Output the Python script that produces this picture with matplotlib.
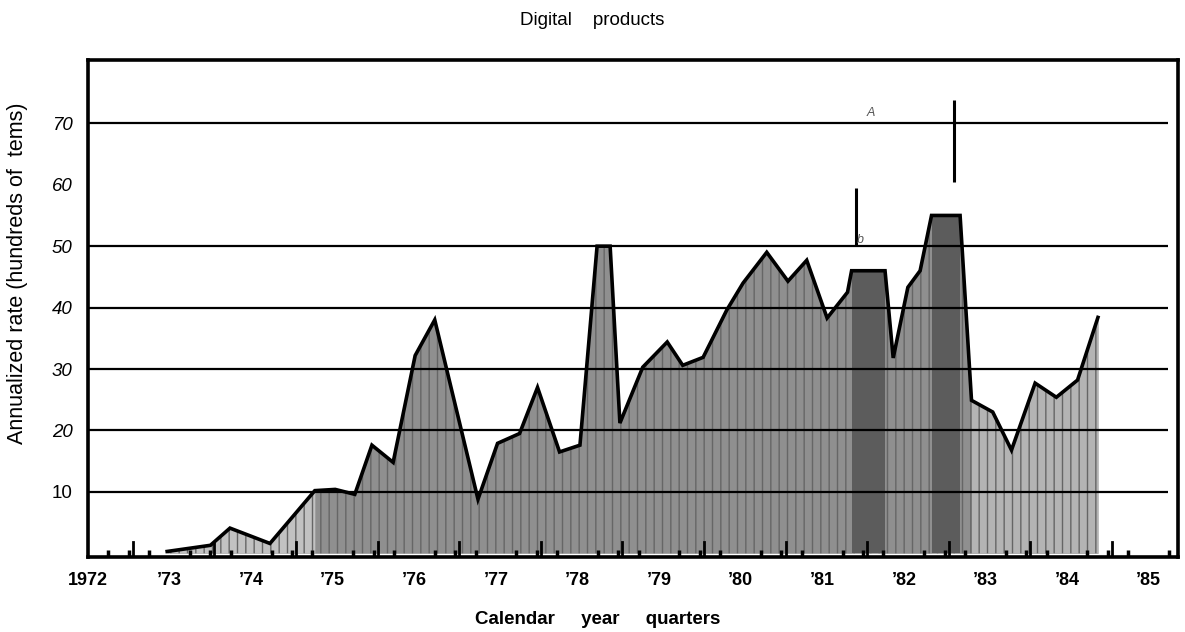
import numpy as np
import matplotlib.pyplot as plt

plt.rcParams['font.family'] = ['Liberation Sans', 'DejaVu Sans']

# quarterly readings (year, hundreds of items)
years = [1972.97, 1973.50, 1973.74, 1974.23, 1974.78, 1975.03, 1975.27, 1975.48,
         1975.74, 1976.01, 1976.25, 1976.78, 1977.02, 1977.29, 1977.51, 1977.78,
         1978.03, 1978.24, 1978.40, 1978.52, 1978.80, 1979.10, 1979.29, 1979.54,
         1979.83, 1980.03, 1980.32, 1980.58, 1980.81, 1981.06, 1981.31, 1981.36,
         1981.77, 1981.87, 1982.05, 1982.20, 1982.34, 1982.69, 1982.83, 1983.09,
         1983.32, 1983.61, 1983.87, 1984.13, 1984.38]
rate = [0.3, 1.3, 4.1, 1.6, 10.2, 10.4, 9.6, 17.6,
        14.8, 32.2, 38.0, 8.8, 17.9, 19.5, 27.0, 16.5,
        17.6, 50.0, 50.0, 21.2, 30.3, 34.4, 30.6, 31.9,
        39.6, 44.0, 49.0, 44.3, 47.7, 38.3, 42.5, 46.0,
        46.0, 31.8, 43.3, 46.0, 55.0, 55.0, 24.9, 23.0,
        16.8, 27.7, 25.4, 28.2, 38.4]

# off-scale bands (darker)
band_start = [1981.36, 1982.34]
band_end = [1981.77, 1982.69]

# stray vertical marks above the bands
mark_x = [1981.42, 1982.62]
mark_lo = [50.2, 60.4]
mark_hi = [59.4, 73.8]

grid_vals = [10, 20, 30, 40, 50, 70]
ytick_vals = [10, 20, 30, 40, 50, 60, 70]
year_ticks = list(range(1972, 1986))
year_labels = ['1972'] + ["\u2019%02d" % (y % 100) for y in year_ticks[1:]]

yrs = np.array(years)
vals = np.array(rate)

fig = plt.figure(figsize=(11.85, 6.32), dpi=100)
ax = fig.add_axes([0.0743, 0.1187, 0.9197, 0.7863])

# shading is lighter at both ends of the scan
ax.fill_between(yrs, 0, vals, color='#8f8f8f', linewidth=0, zorder=1)
ax.fill_between(yrs, 0, vals, where=yrs <= 1974.8, color='#c2c2c2', linewidth=0, zorder=1)
ax.fill_between(yrs, 0, vals, where=yrs >= 1982.83, color='#b4b4b4', linewidth=0, zorder=1)
ax.fill_between(yrs, 0, vals, facecolor='none', edgecolor='#666666',
                hatch='||', linewidth=0, zorder=1)
for s, e in zip(band_start, band_end):
    ax.fill_between(yrs, 0, vals, where=(yrs >= s) & (yrs <= e),
                    color='#5c5c5c', linewidth=0, zorder=1)

ax.hlines(grid_vals, 1972, 1985.24, colors='black', linewidth=1.6, zorder=2)
ax.plot(yrs, vals, color='black', linewidth=2.6, solid_joinstyle='miter', zorder=3)
ax.vlines(mark_x, mark_lo, mark_hi, colors='black', linewidth=2.2, zorder=3)

ax.text(1981.55, 71.2, 'A', fontsize=9, color='#555555', style='italic')
ax.text(1981.42, 50.5, 'b', fontsize=9, color='#555555', style='italic')

ax.set_xlim(1972, 1985.36)
ax.set_ylim(-0.6, 80.3)

ax.set_xticks(year_ticks)
ax.set_xticklabels(year_labels, fontsize=13, fontweight='bold')
ax.set_xticks(np.arange(1972, 1985.3, 0.25), minor=True)
ax.tick_params(axis='x', which='major', length=0, pad=10.5)
ax.tick_params(axis='x', which='minor', direction='in', length=5, width=2.5)
for y in year_ticks[:-1]:
    ax.axvline(y + 0.55, ymin=0, ymax=0.03, color='black', linewidth=2)

ax.set_yticks(ytick_vals)
ax.set_yticklabels([str(v) for v in ytick_vals], fontsize=13.5)
for lab in ax.get_yticklabels():
    if lab.get_text() != '10':
        lab.set_style('italic')
ax.tick_params(axis='y', length=0, pad=11)

for side in ['left', 'top', 'bottom', 'right']:
    ax.spines[side].set_linewidth(2.6)

ax.set_xlabel('Calendar     year     quarters', fontsize=13.5, fontweight='bold')
ax.xaxis.set_label_coords(0.468, -0.108)
ax.set_ylabel('Annualized rate (hundreds of  tems)', fontsize=15.5)
ax.yaxis.set_label_coords(-0.055, 0.571)
fig.text(0.5, 0.967, 'Digital    products', fontsize=13.5, ha='center', va='center')

fig.savefig('out.png', dpi=100)
